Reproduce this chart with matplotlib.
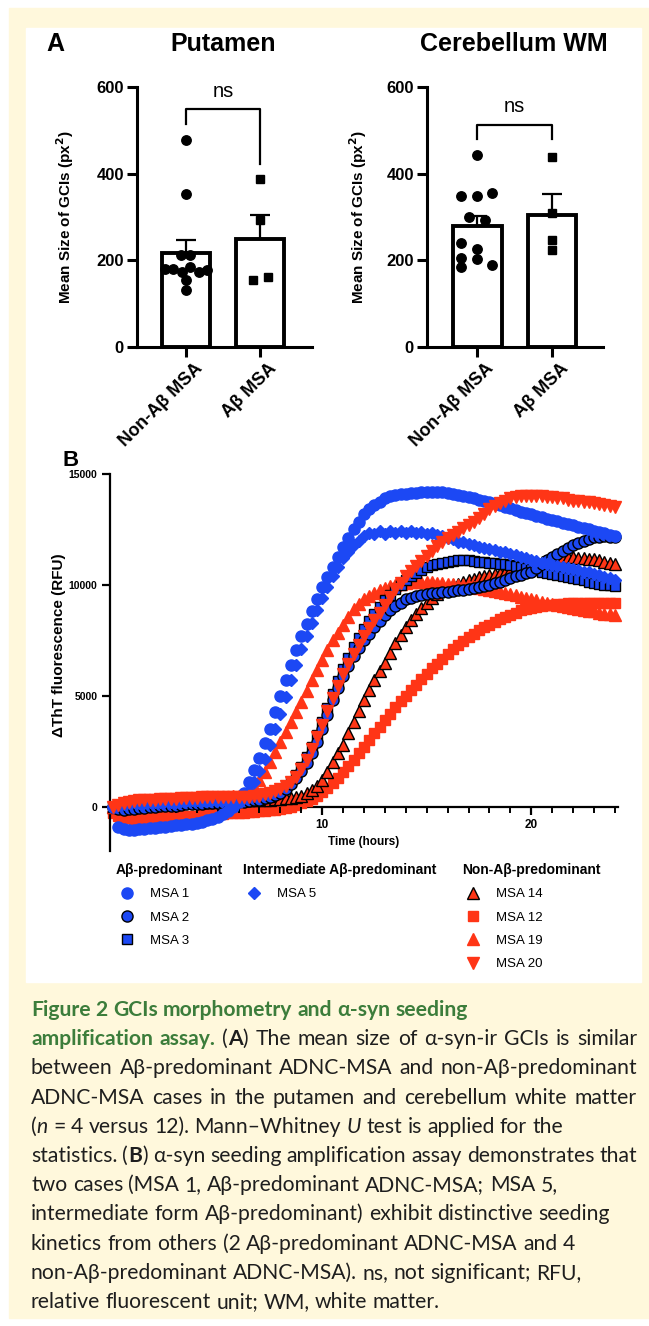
import re
import numpy as np
import matplotlib
matplotlib.use('Agg')
import matplotlib.pyplot as plt
from matplotlib.patches import Rectangle
from matplotlib.transforms import ScaledTranslation

plt.rcParams['font.family'] = ['Liberation Sans', 'DejaVu Sans']

# ---- panel A data (mean size of GCIs, px^2) ----
groups = ['Non-Aβ MSA', 'Aβ MSA']
put_non = [478, 352, 213, 213, 181, 181, 185, 172, 172, 178, 155, 132]
put_non_jit = [0, 0, -0.07, 0.06, -0.28, -0.17, 0.06, -0.05, 0.17, 0.28, 0, 0]
put_ab = [388, 292, 155, 161]
put_ab_jit = [0, 0, -0.1, 0.11]
cer_non = [442, 348, 348, 355, 300, 294, 241, 227, 205, 202, 185, 190]
cer_non_jit = [0, -0.21, 0, 0.2, -0.11, 0.1, -0.21, 0, -0.21, 0, -0.21, 0.2]
cer_ab = [438, 309, 248, 223]
cer_ab_jit = [0, 0, 0, 0]

# ---- panel B data (ThT fluorescence, RFU), one reading every 15 min, 0-24 h ----
hours = np.arange(0, 24.001, 0.25)
msa1 = [0, -900, -1000, -1050, -1050, -1020, -1000, -980, -950, -930, -900, -870,
        -850, -830, -800, -760, -720, -670, -620, -540, -450, -330, -200, -20,
        200, 600, 1100, 1650, 2200, 2850, 3500, 4250, 5000, 5700, 6400, 7050,
        7700, 8250, 8800, 9350, 9900, 10350, 10800, 11250, 11700, 12100, 12500, 12850,
        13200, 13400, 13600, 13750, 13900, 14000, 14050, 14080, 14100, 14130, 14150, 14180,
        14200, 14200, 14200, 14180, 14150, 14100, 14050, 14000, 13950, 13900, 13850, 13800,
        13750, 13680, 13600, 13520, 13450, 13380, 13300, 13240, 13180, 13110, 13050, 12980,
        12920, 12860, 12800, 12740, 12680, 12620, 12560, 12500, 12450, 12380, 12320, 12260,
        12200]
msa2 = [0, -100, -150, -120, -100, -80, -50, -20, 0, 20, 50, 50,
        50, 80, 100, 100, 100, 120, 150, 150, 150, 150, 150, 180,
        200, 220, 250, 280, 300, 370, 450, 530, 600, 780, 1000, 1280,
        1600, 1980, 2400, 2930, 3500, 4150, 4800, 5350, 5900, 6350, 6800, 7150,
        7500, 7800, 8100, 8380, 8650, 8850, 9050, 9200, 9350, 9430, 9500, 9550,
        9600, 9630, 9650, 9680, 9700, 9720, 9750, 9780, 9800, 9850, 9900, 9950,
        10000, 10080, 10150, 10230, 10300, 10380, 10450, 10520, 10600, 10780, 10950, 11100,
        11250, 11400, 11550, 11680, 11800, 11900, 12000, 12080, 12150, 12180, 12200, 12180,
        12150]
msa3 = [0, 50, 100, 80, 50, 80, 100, 120, 150, 120, 100, 120,
        150, 150, 150, 180, 200, 180, 150, 180, 200, 200, 200, 230,
        250, 250, 250, 280, 300, 370, 450, 570, 700, 880, 1100, 1420,
        1800, 2230, 2700, 3230, 3800, 4450, 5100, 5650, 6200, 6700, 7200, 7600,
        8000, 8350, 8700, 9000, 9300, 9550, 9800, 10000, 10200, 10380, 10550, 10680,
        10800, 10880, 10950, 11000, 11050, 11080, 11100, 11100, 11100, 11080, 11050, 11020,
        11000, 10980, 10950, 10920, 10900, 10850, 10800, 10750, 10700, 10650, 10600, 10550,
        10500, 10450, 10400, 10350, 10300, 10250, 10200, 10150, 10100, 10050, 10000, 9980,
        9950]
msa5 = [0, 80, 100, 180, 200, 150, 150, 200, 200, 230, 250, 200,
        200, 250, 250, 280, 300, 250, 250, 280, 300, 280, 300, 320,
        350, 480, 700, 1100, 1600, 2150, 2800, 3500, 4200, 4950, 5700, 6400,
        7100, 7700, 8300, 8850, 9400, 9900, 10400, 10800, 11200, 11500, 11800, 12000,
        12200, 12350, 12300, 12450, 12300, 12450, 12350, 12450, 12350, 12450, 12350, 12400,
        12300, 12350, 12250, 12200, 12100, 12050, 11950, 11920, 11850, 11800, 11700, 11680,
        11600, 11580, 11500, 11470, 11400, 11340, 11250, 11190, 11100, 11070, 11000, 10960,
        10900, 10860, 10800, 10760, 10700, 10660, 10600, 10560, 10500, 10440, 10350, 10290,
        10200]
msa14 = [0, 30, 50, 80, 100, 130, 150, 150, 150, 180, 200, 200,
         200, 230, 250, 250, 250, 280, 300, 300, 300, 300, 300, 300,
         300, 300, 300, 300, 300, 300, 300, 330, 350, 380, 400, 450,
         500, 600, 750, 950, 1200, 1550, 2000, 2400, 2800, 3300, 3800, 4300,
         4800, 5250, 5700, 6100, 6500, 6950, 7400, 7750, 8100, 8400, 8700, 8950,
         9200, 9400, 9600, 9750, 9900, 9980, 10050, 10130, 10200, 10280, 10350, 10400,
         10450, 10500, 10550, 10600, 10650, 10700, 10750, 10820, 10900, 10980, 11050, 11100,
         11150, 11200, 11250, 11250, 11250, 11230, 11200, 11180, 11150, 11100, 11050, 11000,
         10950]
msa12 = [-300, -420, -500, -530, -550, -530, -500, -500, -500, -480, -450, -450,
         -450, -420, -400, -400, -400, -380, -350, -350, -350, -320, -300, -300,
         -300, -280, -250, -220, -200, -180, -150, -130, -100, -50, 0, 70,
         150, 240, 350, 490, 650, 840, 1050, 1290, 1550, 1820, 2100, 2400,
         2700, 3000, 3300, 3600, 3900, 4200, 4500, 4750, 5000, 5250, 5500, 5750,
         6000, 6230, 6450, 6680, 6900, 7100, 7300, 7480, 7650, 7800, 7950, 8080,
         8200, 8330, 8450, 8550, 8650, 8750, 8850, 8900, 8950, 9000, 9050, 9080,
         9100, 9130, 9150, 9180, 9200, 9200, 9200, 9200, 9200, 9200, 9200, 9200,
         9200]
msa19 = [0, 50, 100, 150, 200, 230, 250, 280, 300, 300, 300, 330,
         350, 350, 350, 380, 400, 400, 400, 430, 450, 450, 450, 480,
         500, 580, 700, 920, 1200, 1580, 2000, 2450, 2900, 3350, 3800, 4250,
         4700, 5200, 5700, 6150, 6600, 7050, 7500, 7850, 8200, 8550, 8900, 9150,
         9350, 9500, 9650, 9750, 9850, 9930, 10000, 10050, 10100, 10130, 10150, 10150,
         10150, 10130, 10100, 10080, 10050, 10030, 10000, 9980, 9950, 9900, 9850, 9800,
         9750, 9730, 9700, 9650, 9600, 9530, 9450, 9400, 9350, 9300, 9250, 9200,
         9150, 9100, 9050, 9000, 8950, 8900, 8850, 8830, 8800, 8750, 8700, 8680,
         8650]
msa20 = [0, 80, 150, 200, 250, 280, 300, 300, 300, 330, 350, 350,
         350, 380, 400, 400, 400, 430, 450, 450, 450, 450, 450, 450,
         450, 450, 450, 480, 500, 550, 600, 700, 800, 930, 1100, 1350,
         1700, 2120, 2600, 3130, 3700, 4300, 4900, 5450, 6000, 6450, 6900, 7300,
         7700, 8050, 8400, 8750, 9100, 9450, 9800, 10100, 10400, 10630, 10850, 11080,
         11300, 11530, 11750, 11930, 12100, 12250, 12400, 12550, 12700, 12850, 13000, 13200,
         13400, 13550, 13700, 13800, 13900, 13950, 14000, 14000, 14000, 14000, 14000, 13980,
         13950, 13930, 13900, 13850, 13800, 13780, 13750, 13730, 13700, 13650, 13600, 13550,
         13500]

legend_groups = ['Aβ-predominant', 'Intermediate Aβ-predominant', 'Non-Aβ-predominant']

W, H = 649, 1326
BLUE = '#1c48f4'
RED = '#ff3516'


def fy(y):
    return 1 - y / H


def rect(x0, y0, x1, y1):
    return [x0 / W, 1 - y1 / H, (x1 - x0) / W, (y1 - y0) / H]


fig = plt.figure(figsize=(W / 100, H / 100), dpi=100)
fig.add_artist(Rectangle((9 / W, fy(1318)), (W - 9) / W, (1318 - 8) / H,
                         transform=fig.transFigure, color='#fff8dc', zorder=-20))
fig.add_artist(Rectangle((26 / W, fy(982)), (641 - 26) / W, (982 - 28) / H,
                         transform=fig.transFigure, color='white', zorder=-19))


# ---------------- panel A ----------------
def bar_panel(px, data, jits, markers, title, title_x, ylab_x, bracket, ns_y):
    ax = fig.add_axes(rect(*px))
    ax.set_facecolor('none')
    span = (px[2] - px[0])
    for i, (v, j, mk) in enumerate(zip(data, jits, markers)):
        v = np.array(v, dtype=float)
        m = v.mean()
        sem = v.std(ddof=1) / np.sqrt(len(v))
        ax.bar(i, m, width=0.65, color='white', edgecolor='black', linewidth=2.8, zorder=2)
        ax.errorbar(i, m, yerr=[[0], [sem]], color='black', lw=1.6, capsize=7,
                    capthick=1.6, zorder=3)
        ax.plot(i + np.array(j), v, ls='none', marker=mk[0], ms=mk[1],
                color='black', zorder=4, clip_on=False)
    ax.set_ylim(0, 600)
    ax.set_xlim(bracket[3], bracket[4])
    for s in ['top', 'right']:
        ax.spines[s].set_visible(False)
    for s in ['left', 'bottom']:
        ax.spines[s].set_linewidth(2.2)
    ax.tick_params(length=7.5, width=2.2, pad=2)
    ax.set_yticks([0, 200, 400, 600], labels=['0', '200', '400', '600'],
                  fontsize=12, fontweight='bold')
    ax.set_xticks([0, 1], labels=groups, fontsize=13, fontweight='bold',
                  rotation=45, ha='right', rotation_mode='anchor')
    for lab in ax.get_xticklabels():
        lab.set_transform(lab.get_transform() + ScaledTranslation(6 / 72, 0, fig.dpi_scale_trans))
    ax.set_ylabel('Mean Size of GCIs (px$^\\mathbf{2}$)', fontsize=11, fontweight='bold')
    ax.yaxis.set_label_coords((ylab_x + 7 - px[0]) / span, 0.5)
    top, l_end, r_end = bracket[0], bracket[1], bracket[2]
    ax.plot([0, 0, 1, 1], [l_end, top, top, r_end], color='black', lw=1.6, clip_on=False)
    ax.text(0.5, ns_y, 'ns', ha='center', va='center', fontsize=14.5)
    fig.text(title_x / W, fy(44), title, ha='center', va='center', fontsize=18,
             fontweight='bold')
    return ax


bar_panel((137, 87, 312, 347), [put_non, put_ab], [put_non_jit, put_ab_jit],
          [('o', 6.8), ('s', 6.2)], 'Putamen', 223, 69,
          (550, 515, 423, -0.66, 1.70), 590)
bar_panel((427, 87, 603, 347), [cer_non, cer_ab], [cer_non_jit, cer_ab_jit],
          [('o', 6.8), ('s', 6.2)], 'Cerebellum WM', 514, 362,
          (512, 481, 481, -0.67, 1.68), 556)
fig.text(46 / W, fy(44), 'A', ha='left', va='center', fontsize=18, fontweight='bold')

# ---------------- panel B ----------------
axb = fig.add_axes(rect(110, 474, 618, 851))
axb.set_facecolor('none')
series = [
    ('MSA 12', msa12, dict(marker='s', color=RED, mec=RED, ms=7.5), 1),
    ('MSA 14', msa14, dict(marker='^', color=RED, mec='black', mew=1.0, ms=8), 2),
    ('MSA 19', msa19, dict(marker='^', color=RED, mec=RED, ms=8), 3),
    ('MSA 3', msa3, dict(marker='s', color=BLUE, mec='black', mew=1.0, ms=7.5), 4),
    ('MSA 2', msa2, dict(marker='o', color=BLUE, mec='black', mew=1.0, ms=8), 5),
    ('MSA 5', msa5, dict(marker='D', color=BLUE, mec=BLUE, ms=6), 6),
    ('MSA 1', msa1, dict(marker='o', color=BLUE, mec=BLUE, ms=8), 7),
    ('MSA 20', msa20, dict(marker='v', color=RED, mec=RED, ms=8), 8),
]
handles = {}
for name, vals, st, z in series:
    ln, = axb.plot(hours, vals, ls='none', zorder=z, clip_on=False, **st)
    handles[name] = ln

axb.set_xlim(-0.15, 24.15)
axb.set_ylim(-2000, 15000)
for s in ['top', 'right']:
    axb.spines[s].set_visible(False)
axb.spines['left'].set_linewidth(1.6)
axb.spines['bottom'].set_linewidth(1.6)
axb.spines['bottom'].set_position(('data', 0))
axb.spines['bottom'].set_zorder(0.5)
axb.set_yticks([0, 5000, 10000, 15000], labels=['0', '5000', '10000', '15000'],
               fontsize=7.5, fontweight='bold')
axb.set_xticks([10, 20], labels=['10', '20'], fontsize=8.5, fontweight='bold')
axb.set_xticks(range(0, 25), minor=True)
axb.tick_params(axis='both', which='major', length=6, width=1.6, pad=3)
axb.tick_params(axis='x', which='minor', length=4, width=1.4)
axb.set_xlabel('Time (hours)', fontsize=8.5, fontweight='bold')
axb.xaxis.set_label_coords(0.5, (851 - 836) / 377)
axb.set_ylabel('ΔThT fluorescence (RFU)', fontsize=11, fontweight='bold')
axb.yaxis.set_label_coords((66 - 110) / 508, (851 - 645) / 377)
fig.text(62 / W, fy(460), 'B', ha='left', va='center', fontsize=16, fontweight='bold')

legend_members = [
    ['MSA 1', 'MSA 2', 'MSA 3'],
    ['MSA 5'],
    ['MSA 14', 'MSA 12', 'MSA 19', 'MSA 20'],
]
for title, members, x0 in zip(legend_groups, legend_members, [116, 243, 462]):
    lg = fig.legend([handles[m] for m in members], members, title=title,
                    loc='upper left', bbox_to_anchor=(x0 / W, fy(863)),
                    frameon=False, borderpad=0, borderaxespad=0,
                    handlelength=1.7, handletextpad=0.9, labelspacing=0.84,
                    prop=dict(size=9.5), alignment='left',
                    title_fontproperties=dict(size=10, weight='bold'))

# ---------------- caption ----------------
CAP_FAMILY = ['Lato', 'DejaVu Sans']
GREEN = '#3c7d3b'
INK = '#1e1e1e'
cap_lines = [
    ([('Figure 2 GCIs morphometry and α-syn seeding', 'g')], False),
    ([('amplification assay.', 'g'), (' (', 'n'), ('A', 'b'),
      (') The mean size of α-syn-ir GCIs is similar', 'n')], True),
    ([('between Aβ-predominant ADNC-MSA and non-Aβ-predominant', 'n')], True),
    ([('ADNC-MSA cases in the putamen and cerebellum white matter', 'n')], True),
    ([('(', 'n'), ('n', 'i'), (' = 4 versus 12). Mann–Whitney ', 'n'), ('U', 'i'),
      (' test is applied for the', 'n')], False),
    ([('statistics. (', 'n'), ('B', 'b'),
      (') α-syn seeding amplification assay demonstrates that', 'n')], True),
    ([('two cases (MSA 1, Aβ-predominant ADNC-MSA; MSA 5,', 'n')], False),
    ([('intermediate form Aβ-predominant) exhibit distinctive seeding', 'n')], False),
    ([('kinetics from others (2 Aβ-predominant ADNC-MSA and 4', 'n')], False),
    ([('non-Aβ-predominant ADNC-MSA). ns, not significant; RFU,', 'n')], False),
    ([('relative fluorescent unit; WM, white matter.', 'n')], False),
]

renderer = fig.canvas.get_renderer()


def style(st, fs):
    d = dict(family=CAP_FAMILY, fontsize=fs, color=INK)
    if st == 'g':
        d.update(color=GREEN, fontweight='bold')
    elif st == 'b':
        d.update(fontweight='bold')
    elif st == 'i':
        d.update(fontstyle='italic')
    return d


def text_w(s, **kw):
    t = fig.text(0, 0, s, **kw)
    w = t.get_window_extent(renderer).width
    t.remove()
    return w


fs_cap = 13 * 576 / text_w(cap_lines[7][0][0][0], **style('n', 13))
X0, X1 = 31, 637
for k, (runs, justify) in enumerate(cap_lines):
    y = 1016 + 29.2 * k
    pieces = []
    for txt, st in runs:
        for part in re.split(r'( )', txt):
            if part:
                pieces.append((part, st))
    widths = []
    for p, st in pieces:
        kw = style(st, fs_cap)
        if p == ' ':
            widths.append(text_w('a a', **kw) - text_w('aa', **kw))
        else:
            widths.append(text_w(p, **kw))
    extra = 0
    if justify:
        n_sp = sum(1 for p, _ in pieces if p == ' ')
        extra = (X1 - X0 - sum(widths)) / max(n_sp, 1)
    x = X0
    for (p, st), w in zip(pieces, widths):
        if p == ' ':
            x += extra
        else:
            fig.text(x / W, fy(y), p, ha='left', va='baseline', **style(st, fs_cap))
        x += w

fig.savefig('out.png', dpi=100)
